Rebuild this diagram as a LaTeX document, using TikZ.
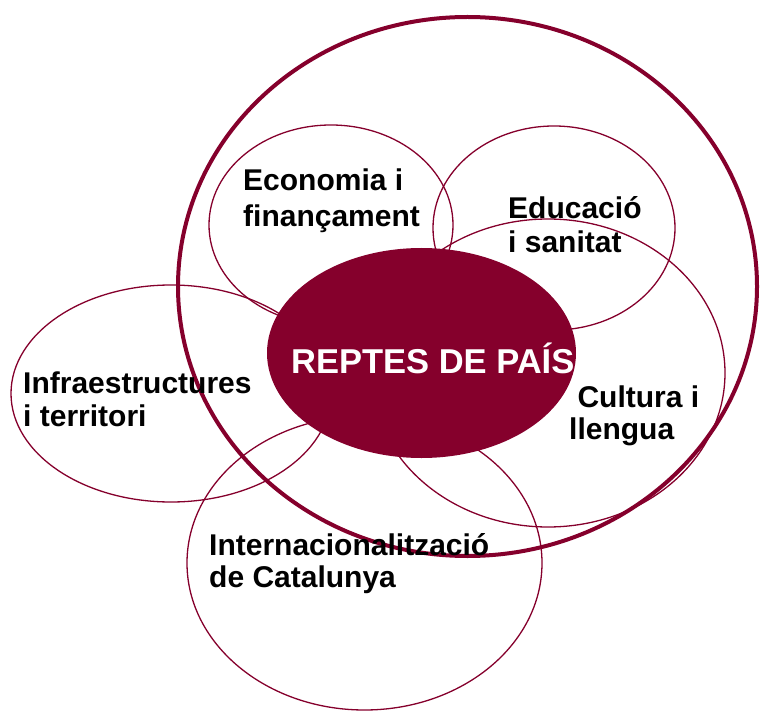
\documentclass[tikz,border=0pt]{standalone}
\usepackage{fontspec}
\setmainfont{Liberation Sans}
\definecolor{maroon}{RGB}{133,0,44}
\tikzset{
  thinring/.style={draw=maroon, line width=1.3pt},
  bigring/.style={draw=maroon, line width=4pt},
  lbl/.style={anchor=base west, inner sep=0pt, font=\fontsize{30}{36}\selectfont\bfseries, text=black},
  ctr/.style={anchor=base west, inner sep=0pt, font=\fontsize{34.5}{40}\selectfont\bfseries, text=white}
}
\begin{document}
\begin{tikzpicture}[x=1pt,y=-1pt]
\useasboundingbox (0,0) rectangle (760,711);
% thin rings
\draw[thinring] (331,225) ellipse [x radius=122pt, y radius=100pt];
\draw[thinring] (554,228) ellipse [x radius=121pt, y radius=102pt];
\draw[thinring] (548,373) ellipse [x radius=177pt, y radius=154pt];
\draw[thinring] (171,393.5) ellipse [x radius=160pt, y radius=108.5pt];
\draw[thinring] (364.5,563) ellipse [x radius=177.5pt, y radius=147pt];
% big ring
\draw[bigring] (467.5,286.5) ellipse [x radius=289.5pt, y radius=269.5pt];
% central filled ellipse
\fill[maroon] (421.5,353) ellipse [x radius=154.5pt, y radius=105pt];
% labels
\node[ctr] (reptes) at (291,373) {REPTES DE PAÍS};
\node[lbl] (eco1) at (243,191) {Economia i};
\node[lbl] (eco2) at (243,227) {finançament};
\node[lbl] (edu1) at (508,219) {Educació};
\node[lbl] (edu2) at (508,253) {i sanitat};
\node[lbl] (cul1) at (569,407) {\ Cultura i};
\node[lbl] (cul2) at (569,439) {llengua};
\node[lbl] (inf1) at (23,393) {Infraestructures};
\node[lbl] (inf2) at (23,426) {i territori};
\node[lbl] (int1) at (209,555) {Internacionalització};
\node[lbl] (int2) at (209,587) {de Catalunya};
\end{tikzpicture}
\end{document}
